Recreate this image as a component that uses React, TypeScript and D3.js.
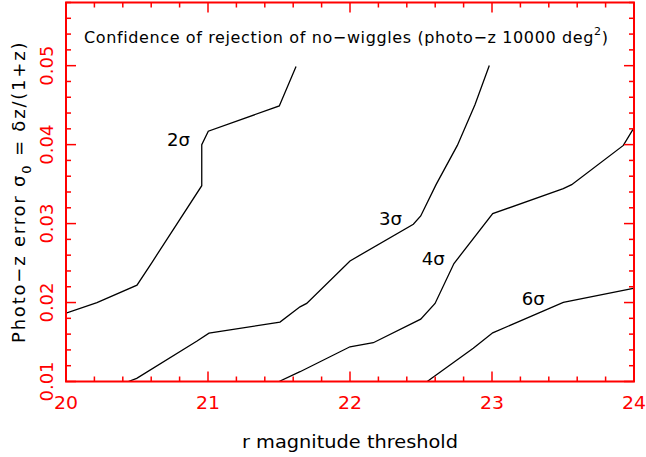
import React from "react";
import * as d3 from "d3";

const W = 646, H = 457;
const M = { left: 66, top: 2.5, right: 634, bottom: 381.5 };

const xDomain = [20, 24];
const yDomain = [0.01, 0.058];
const xMajorTicks = [20, 21, 22, 23, 24];
const yMajorTicks = [0.01, 0.02, 0.03, 0.04, 0.05];
const yTickLabels = ["0.01", "0.02", "0.03", "0.04", "0.05"];

const sigma2m = [20.0, 20.218, 20.5, 20.606, 20.956, 20.956, 21.002, 21.502, 21.62];
const sigma2s = [0.01866, 0.02, 0.0222, 0.0251, 0.0348, 0.04, 0.0417, 0.0449, 0.0499];

const sigma3m = [20.439, 20.498, 20.923, 21.007, 21.507, 21.648, 21.695, 22.0, 22.446, 22.498, 22.606, 22.756, 22.88, 22.981];
const sigma3s = [0.01, 0.0104, 0.01512, 0.01613, 0.01752, 0.01946, 0.01989, 0.02527, 0.02991, 0.03096, 0.03493, 0.0399, 0.04504, 0.05001];

const sigma4m = [21.5, 21.648, 22.0, 22.164, 22.498, 22.599, 22.732, 23.005, 23.502, 23.561, 23.925, 23.995];
const sigma4s = [0.01, 0.01124, 0.0144, 0.01491, 0.0179, 0.01989, 0.02494, 0.03126, 0.03442, 0.03493, 0.0399, 0.042];

const sigma6m = [22.544, 22.575, 22.868, 23.005, 23.502, 23.995];
const sigma6s = [0.01, 0.0104, 0.0142, 0.01617, 0.02001, 0.02178];

const curveLabels = ["2σ", "3σ", "4σ", "6σ"];
const labelPos = [
  [20.711, 0.0398],
  [22.204, 0.0298],
  [22.505, 0.0247],
  [23.209, 0.0197],
];

const RED = "#ff0000";
const FONT = "'DejaVu Sans', 'Liberation Sans', sans-serif";

export default function App() {
  const x = d3.scaleLinear().domain(xDomain).range([M.left, M.right]);
  const y = d3.scaleLinear().domain(yDomain).range([M.bottom, M.top]);
  const line = d3.line<[number, number]>().x((d) => x(d[0])).y((d) => y(d[1]));

  const series = [
    d3.zip(sigma2m, sigma2s),
    d3.zip(sigma3m, sigma3s),
    d3.zip(sigma4m, sigma4s),
    d3.zip(sigma6m, sigma6s),
  ] as [number, number][][];

  const xMinor = d3.range(20, 24.0001, 0.2).filter((v) => Math.abs(v - Math.round(v)) > 1e-6);
  const yMinor = d3.range(0.01, 0.0581, 0.002).filter((v) => Math.abs(v * 100 - Math.round(v * 100)) > 1e-6);

  const majorLen = 10, minorLen = 5;

  return (
    <svg width={W} height={H} style={{ position: "absolute", left: 0, top: 0, background: "#fff" }}>
      <rect x={0} y={0} width={W} height={H} fill="#fff" />
      <defs>
        <clipPath id="clip">
          <rect x={M.left} y={M.top} width={M.right - M.left} height={M.bottom - M.top} />
        </clipPath>
      </defs>
      <g clipPath="url(#clip)">
        {series.map((s, i) => (
          <path key={i} d={line(s) || ""} fill="none" stroke="#000" strokeWidth={1.3} />
        ))}
      </g>
      {curveLabels.map((t, i) => (
        <text key={t} x={x(labelPos[i][0])} y={y(labelPos[i][1])} fontFamily={FONT} fontSize={17} fill="#000" textLength={23} lengthAdjust="spacingAndGlyphs">
          {t}
        </text>
      ))}
      <g stroke={RED} strokeWidth={1.5}>
        {xMajorTicks.map((v) => (
          <g key={"xm" + v}>
            <line x1={x(v)} x2={x(v)} y1={M.bottom} y2={M.bottom - majorLen} />
            <line x1={x(v)} x2={x(v)} y1={M.top} y2={M.top + majorLen} />
          </g>
        ))}
        {xMinor.map((v, i) => (
          <g key={"xn" + i}>
            <line x1={x(v)} x2={x(v)} y1={M.bottom} y2={M.bottom - minorLen} />
            <line x1={x(v)} x2={x(v)} y1={M.top} y2={M.top + minorLen} />
          </g>
        ))}
        {yMajorTicks.map((v) => (
          <g key={"ym" + v}>
            <line x1={M.left} x2={M.left + majorLen} y1={y(v)} y2={y(v)} />
            <line x1={M.right} x2={M.right - majorLen} y1={y(v)} y2={y(v)} />
          </g>
        ))}
        {yMinor.map((v, i) => (
          <g key={"yn" + i}>
            <line x1={M.left} x2={M.left + minorLen} y1={y(v)} y2={y(v)} />
            <line x1={M.right} x2={M.right - minorLen} y1={y(v)} y2={y(v)} />
          </g>
        ))}
      </g>
      <rect x={M.left} y={M.top} width={M.right - M.left} height={M.bottom - M.top} fill="none" stroke={RED} strokeWidth={2} />
      {xMajorTicks.map((v) => (
        <text key={"xl" + v} x={x(v)} y={409} textAnchor="middle" fontFamily={FONT} fontSize={18} fill={RED} textLength={24} lengthAdjust="spacingAndGlyphs">
          {String(v)}
        </text>
      ))}
      {yMajorTicks.map((v, i) => (
        <text
          key={"yl" + v}
          transform={`translate(53,${y(v)}) rotate(-90)`}
          textAnchor="middle"
          fontFamily={FONT}
          fontSize={18}
          fill={RED}
          textLength={40}
          lengthAdjust="spacingAndGlyphs"
        >
          {yTickLabels[i]}
        </text>
      ))}
      <text x={350} y={448} textAnchor="middle" fontFamily={FONT} fontSize={17} fill="#000" textLength={216} lengthAdjust="spacingAndGlyphs">
        r magnitude threshold
      </text>
      <text transform="translate(25,343) rotate(-90)" fontFamily={FONT} fontSize={18} fill="#000" letterSpacing={1.8}>
        <tspan>Photo−z error σ</tspan>
        <tspan fontSize={13} dy={6}>0</tspan>
        <tspan dy={-6}> = δz/(1+z)</tspan>
      </text>
      <text x={84} y={43} fontFamily={FONT} fontSize={16} fill="#000" letterSpacing={0.62}>
        <tspan>Confidence of rejection of no−wiggles (photo−z 10000 deg</tspan>
        <tspan fontSize={11} dy={-8}>2</tspan>
        <tspan dy={8}>)</tspan>
      </text>
    </svg>
  );
}
